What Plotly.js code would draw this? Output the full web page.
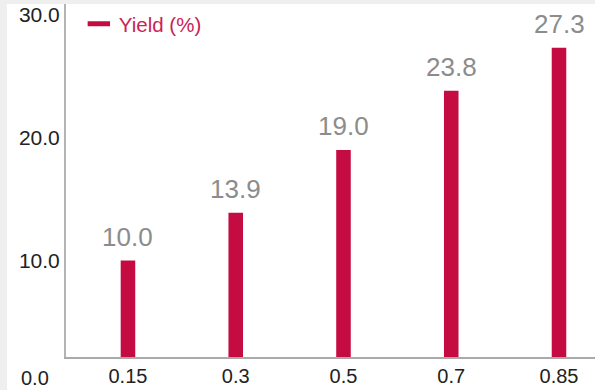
<!DOCTYPE html>
<html>
<head>
<meta charset="utf-8">
<script src="https://cdn.plot.ly/plotly-3.0.1.min.js"></script>
<style>html,body{margin:0;padding:0;background:#fff;}#chart{width:595px;height:390px;}</style>
</head>
<body>
<div id="chart"></div>
<script>
const categories = ['0.15', '0.3', '0.5', '0.7', '0.85'];
const yieldValues = [10.0, 13.9, 19.0, 23.8, 27.3];
const seriesName = 'Yield (%)';
const yTickVals = [10, 20, 30];
const yTickText = ['10.0', '20.0', '30.0'];
const baseLabel = '0.0';

const FONT = 'Liberation Sans, Arial, sans-serif';
const BAR_COLOR = '#c40c42';

const barTrace = {
  type: 'bar',
  x: categories,
  y: yieldValues,
  width: 0.135,
  marker: {color: BAR_COLOR},
  showlegend: false,
  hoverinfo: 'none'
};

const legendTrace = {
  type: 'scatter',
  mode: 'markers',
  x: [null],
  y: [null],
  name: seriesName,
  marker: {symbol: 'line-ew', size: 16, color: BAR_COLOR, line: {width: 5, color: BAR_COLOR}},
  hoverinfo: 'none'
};

// category axes index categories by position in the annotation scale
const valueLabels = categories.map((c, i) => ({
  x: i,
  y: yieldValues[i],
  xref: 'x',
  yref: 'y',
  text: yieldValues[i].toFixed(1),
  showarrow: false,
  yanchor: 'bottom',
  yshift: 7,
  font: {family: FONT, size: 26, color: '#8c8c8c'}
}));

valueLabels.push({
  x: -0.0283, xref: 'paper', xanchor: 'right',
  y: 0, yref: 'paper', yanchor: 'middle', yshift: -21,
  text: baseLabel, showarrow: false,
  font: {family: FONT, size: 20, color: '#222'}
});

const layout = {
  width: 595,
  height: 390,
  margin: {l: 66, r: 0, t: 4, b: 33, pad: 0},
  paper_bgcolor: '#ffffff',
  plot_bgcolor: '#ffffff',
  font: {family: FONT, size: 20, color: '#222'},
  showlegend: true,
  legend: {
    x: 0.0243, xanchor: 'left',
    y: 1, yanchor: 'top',
    bgcolor: 'rgba(0,0,0,0)',
    font: {family: FONT, size: 20.5, color: '#cc2255'}
  },
  xaxis: {
    type: 'category',
    range: [-0.575, 4.334],
    showline: true, linecolor: '#aaaaaa', linewidth: 1.5,
    showgrid: false, zeroline: false, ticks: '',
    tickfont: {family: FONT, size: 20, color: '#222'}
  },
  yaxis: {
    range: [2.163, 30.862],
    tickmode: 'array', tickvals: yTickVals, ticktext: yTickText,
    showline: true, linecolor: '#b4b4b4', linewidth: 2,
    showgrid: false, zeroline: false, ticks: '',
    tickfont: {family: FONT, size: 21, color: '#222'}
  },
  shapes: [
    {type: 'rect', xref: 'paper', yref: 'paper', x0: -0.1248, x1: -0.1115, y0: -0.0935, y1: 1.0114, fillcolor: '#efefef', line: {width: 0}, layer: 'below'},
    {type: 'rect', xref: 'paper', yref: 'paper', x0: -0.1248, x1: 1.0, y0: 1.0, y1: 1.0114, fillcolor: '#efefef', line: {width: 0}, layer: 'below'}
  ],
  annotations: valueLabels
};

Plotly.newPlot('chart', [barTrace, legendTrace], layout, {displayModeBar: false, staticPlot: true});
</script>
</body>
</html>
